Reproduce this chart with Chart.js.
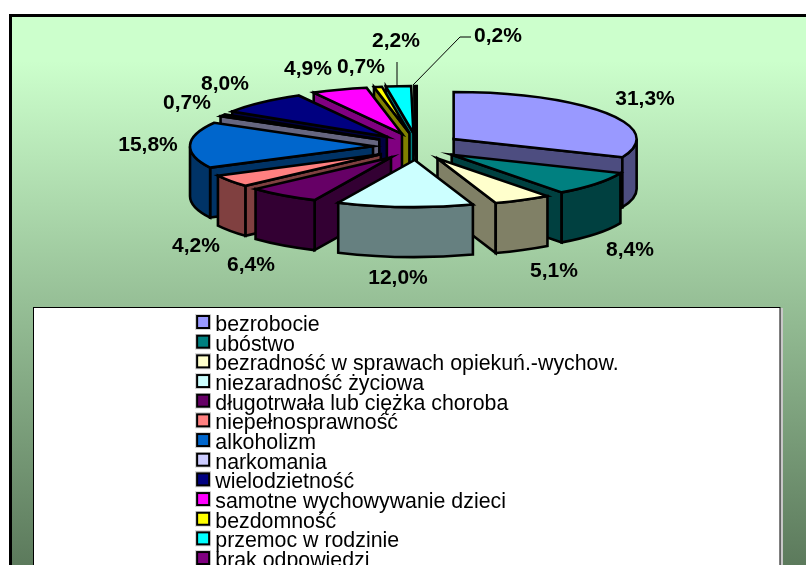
<!DOCTYPE html>
<html><head><meta charset="utf-8">
<style>html,body{margin:0;padding:0;background:#fff;overflow:hidden}canvas{display:block}</style>
<script src="https://cdn.jsdelivr.net/npm/chart.js@4"></script>
</head><body><canvas id="c" width="806" height="565"></canvas>
<script>
const categories = ['bezrobocie','ubóstwo','bezradność w sprawach opiekuń.-wychow.','niezaradność życiowa','długotrwała lub ciężka choroba','niepełnosprawność','alkoholizm','narkomania','wielodzietność','samotne wychowywanie dzieci','bezdomność','przemoc w rodzinie','brak odpowiedzi'];
const values = [31.3,8.4,5.1,12.0,6.4,4.2,15.8,0.7,8.0,4.9,0.7,2.2,0.2];
const colors = ['#9999FF','#008080','#FFFFCC','#CCFFFF','#660066','#FF8080','#0066CC','#CCCCFF','#000080','#FF00FF','#FFFF00','#00FFFF','#800080'];
const labelAnchors = [[645,99],[630,250],[554,271],[398,278],[251,265],[196,246],[148,145],[187,103],[225,84],[308,69],[361,67],[396,41],[498,36]];
const leaders = [[[397,62],[397,86]],[[413,85],[460,37],[471,37]]];
const view = {cx:417, cy:146.5, squash:0.257, depth:50, explodeX:44, explodeY:13.5};

const pct = v => v.toFixed(1).replace('.',',') + '%';
const half = hex => { const n = parseInt(hex.slice(1),16);
  return 'rgb('+[(n>>16)&255,(n>>8)&255,n&255].map(c=>Math.round(c/2)).join(',')+')'; };

// the swatch sits in the top of a taller transparent canvas, which lifts it above the text's centre
function swatch(color){
  const s = document.createElement('canvas'); s.width = 16; s.height = 22;
  const g = s.getContext('2d');
  g.fillStyle = '#d8d8d8'; g.fillRect(0,0,16,16);
  g.fillStyle = '#000'; g.fillRect(1,1,14,14);
  g.fillStyle = color; g.fillRect(3,3,10,10);
  return s;
}

const pie3d = {
  id:'pie3d',
  beforeDraw(chart){
    const c = chart.ctx;
    c.save();
    c.fillStyle = '#fff'; c.fillRect(0,0,806,565);
    c.fillStyle = '#000'; c.fillRect(9,14,797,551);
    const g = c.createLinearGradient(0,17,0,565);
    g.addColorStop(0,'#CCFFCC'); g.addColorStop(0.08,'#CCFFCC'); g.addColorStop(1,'#5C7A5C');
    c.fillStyle = g; c.fillRect(12,17,794,548);
    c.fillStyle = '#c8c8c8'; c.fillRect(33,308,750,257);
    c.fillStyle = '#000'; c.fillRect(33,307,747.5,258);
    c.fillStyle = '#fff'; c.fillRect(34,308,745.5,257);
    c.restore();
  },
  beforeDatasetsDraw(chart){
    const c = chart.ctx, arcs = chart.getDatasetMeta(0).data;
    const order = arcs.map((a,i)=>i).sort((i,j)=>
      Math.sin((arcs[i].startAngle+arcs[i].endAngle)/2) - Math.sin((arcs[j].startAngle+arcs[j].endAngle)/2));
    c.save();
    c.lineWidth = 2.6; c.strokeStyle = '#000'; c.lineJoin = 'miter';
    for (const i of order){
      const {startAngle:s, endAngle:e, outerRadius:r} = arcs[i];
      const m = (s+e)/2, b = r*view.squash, d = view.depth;
      const x = view.cx + view.explodeX*Math.cos(m), y = view.cy + view.explodeY*Math.sin(m);
      const wall = half(colors[i]);
      const radial = t => {
        const px = x+r*Math.cos(t), py = y+b*Math.sin(t);
        c.beginPath(); c.moveTo(x,y); c.lineTo(px,py); c.lineTo(px,py+d); c.lineTo(x,y+d); c.closePath();
        c.fillStyle = wall; c.fill(); c.stroke();
      };
      // a flat cut wall shows only when it faces the viewer
      if (Math.cos(s) < 0) radial(s);
      if (Math.cos(e) > 0) radial(e);
      const lo = Math.max(s,0), hi = Math.min(e,Math.PI);
      if (hi > lo){
        c.beginPath();
        c.ellipse(x,y,r,b,0,lo,hi);
        c.ellipse(x,y+d,r,b,0,hi,lo,true);
        c.closePath();
        c.fillStyle = wall; c.fill(); c.stroke();
      }
      c.beginPath(); c.moveTo(x,y); c.ellipse(x,y,r,b,0,s,e); c.closePath();
      c.fillStyle = colors[i]; c.fill(); c.stroke();
    }
    c.lineWidth = 1; c.beginPath();
    for (const l of leaders){ l.forEach((p,k)=> k ? c.lineTo(p[0],p[1]) : c.moveTo(p[0],p[1])); }
    c.stroke();
    c.fillStyle = '#000'; c.textAlign = 'center'; c.textBaseline = 'middle';
    c.font = 'bold 21px "Liberation Sans"';
    values.forEach((v,i)=> c.fillText(pct(v), labelAnchors[i][0], labelAnchors[i][1]));
    c.restore();
    return false;
  },
  afterLayout(chart){
    const l = chart.legend;
    l.left = 201.6 - l.options.labels.padding; l.right = 780;
    l.top = 316; l.bottom = 640;
    // the legend runs past the foot of the page and its swatches hang left of its box, so no clip
    l.draw = function(){ this._draw(); };
  }
};

new Chart(document.getElementById('c'), {
  type:'pie',
  data:{labels:categories, datasets:[{data:values, backgroundColor:colors, radius:183, borderWidth:0, hoverOffset:0}]},
  options:{
    responsive:false, animation:false, events:[],
    plugins:{
      tooltip:{enabled:false},
      legend:{position:'left', align:'start', maxWidth:10,
        labels:{
          usePointStyle:true, pointStyleWidth:3, padding:-1.68, color:'#000',
          font:{family:'"Liberation Sans"', size:21.35, lineHeight:0.9},
          generateLabels:()=>categories.map((t,i)=>({text:t, pointStyle:swatch(colors[i]), fontColor:'#000', index:i, hidden:false}))
        }}
    }
  },
  plugins:[pie3d]
});
</script></body></html>
